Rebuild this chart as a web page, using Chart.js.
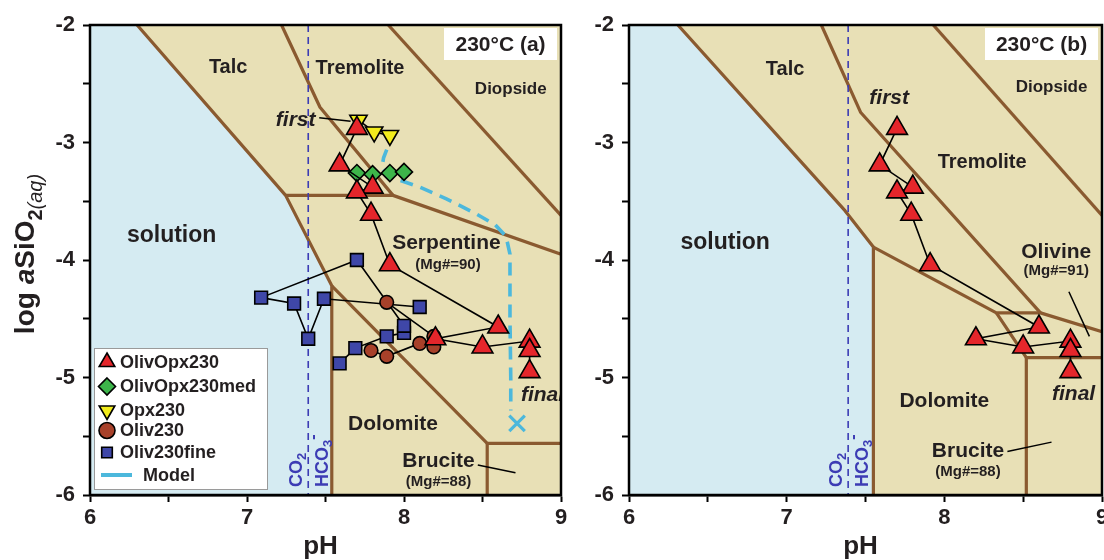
<!DOCTYPE html>
<html>
<head>
<meta charset="utf-8">
<title>log aSiO2 vs pH at 230 °C</title>
<script src="https://cdn.jsdelivr.net/npm/chart.js@4.4.1/dist/chart.umd.min.js"></script>
<style>
  html, body { margin: 0; padding: 0; background: #ffffff; }
  #wrap { position: relative; width: 1104px; height: 560px; overflow: hidden; }
  #panelA { position: absolute; left: 0; top: 0; }
  #panelB { position: absolute; left: 570px; top: 0; }
</style>
</head>
<body>
<div id="wrap">
  <canvas id="panelA" width="570" height="560"></canvas>
  <canvas id="panelB" width="534" height="560"></canvas>
</div>
<script>
// ---------- axes ----------
const phRange = [6, 9];
const logSiO2Range = [-6, -2];
const xTickValues = [6, 7, 8, 9];
const xTickLabels = ['6', '7', '8', '9'];
const yTickValues = [-2, -3, -4, -5, -6];
const yTickLabels = ['-2', '-3', '-4', '-5', '-6'];

// ---------- measured fluids, [pH, log aSiO2(aq)] in sampling order ----------
const olivOpx230 = [[7.70, -2.88], [7.59, -3.19], [7.80, -3.38], [7.70, -3.42], [7.79, -3.61], [7.91, -4.04],
                    [8.60, -4.57], [8.20, -4.67], [8.50, -4.74], [8.80, -4.69], [8.80, -4.77], [8.80, -4.95]];
const olivOpx230med = [[7.70, -3.26], [7.80, -3.27], [7.91, -3.26], [8.00, -3.25]];
const opx230 = [[7.71, -2.81], [7.81, -2.91], [7.91, -2.94]];
const oliv230 = [[7.89, -4.36], [8.19, -4.65], [8.19, -4.74], [8.10, -4.71], [7.89, -4.82], [7.79, -4.77]];
const oliv230fine = [[7.59, -4.88], [7.69, -4.75], [7.89, -4.65], [8.00, -4.62], [8.00, -4.56], [7.70, -4.00],
                     [7.09, -4.32], [7.30, -4.37], [7.39, -4.67], [7.49, -4.33], [8.10, -4.40]];
const seriesNames = ['OlivOpx230', 'OlivOpx230med', 'Opx230', 'Oliv230', 'Oliv230fine', 'Model'];

// ---------- reaction-path model ----------
const modelPath = [[7.89, -3.06], [7.87, -3.13], [7.86, -3.21], [7.90, -3.28], [7.97, -3.32], [8.10, -3.38],
                   [8.27, -3.48], [8.45, -3.60], [8.58, -3.70], [8.65, -3.80], [8.675, -3.95], [8.675, -4.50],
                   [8.68, -5.00], [8.68, -5.28]];
const modelEnd = [[8.72, -5.39]];

// ---------- CO2 / HCO3- equal-activity pH ----------
const carbonatePH = 7.39;

// ---------- stability-field boundaries, panel (a) ----------
const solutionFieldA = [[6.00, -2.00], [6.30, -2.00], [7.246, -3.45], [7.54, -4.22], [7.54, -6.00]];
const solutionEdgeA = [[6.30, -2.00], [7.246, -3.45], [7.54, -4.22], [7.54, -6.00]];
const talcTremoliteA = [[7.22, -2.00], [7.465, -2.70], [7.93, -3.45]];
const talcSerpentineA = [[7.246, -3.45], [7.93, -3.45], [9.00, -3.95]];
const tremoliteDiopsideA = [[7.90, -2.00], [9.00, -3.62]];
const serpentineDolomiteA = [[7.54, -4.22], [8.53, -5.56], [9.00, -5.56]];
const dolomiteBruciteA = [[8.53, -5.56], [8.53, -6.00]];
const leadersA = [[[7.46, -2.79], [7.66, -2.82]], [[8.47, -5.745], [8.71, -5.81]]];

// ---------- stability-field boundaries, panel (b) ----------
const solutionFieldB = [[6.00, -2.00], [6.31, -2.00], [7.37, -3.58], [7.55, -3.89], [7.55, -6.00]];
const solutionEdgeB = [[6.31, -2.00], [7.37, -3.58], [7.55, -3.89], [7.55, -6.00]];
const talcTremoliteB = [[7.22, -2.00], [7.47, -2.745], [8.61, -4.45]];
const tremoliteDiopsideB = [[7.93, -2.00], [9.00, -3.62]];
const talcDolomiteB = [[7.55, -3.89], [8.33, -4.45], [8.61, -4.45], [9.00, -4.61]];
const dolomiteOlivineB = [[8.33, -4.45], [8.52, -4.83], [9.00, -4.83]];
const dolomiteBruciteB = [[8.52, -4.83], [8.52, -6.00]];
const leadersB = [[[8.79, -4.27], [8.92, -4.65]], [[8.40, -5.63], [8.68, -5.55]]];

// ---------- styling ----------
const FONT = '"Liberation Sans", Arial, Helvetica, sans-serif';
const TEXT = '#231f20';
const TAN = '#e8e0b6';
const SOLUTION_BLUE = '#d5ebf2';
const BOUNDARY = '#8a5a30';
const CARB_BLUE = '#3c3cb4';
const MODEL_CYAN = '#4cb8dc';

const markerStyles = {
  OlivOpx230:    { shape: 'triangle', r: 12, rot: 0,   fill: '#e5262b', legendR: 9 },
  OlivOpx230med: { shape: 'rectRot',  r: 8.5, rot: 0,  fill: '#3db54a', legendR: 8.5 },
  Opx230:        { shape: 'triangle', r: 10, rot: 180, fill: '#f2ec1c', legendR: 9 },
  Oliv230:       { shape: 'circle',   r: 6.8, rot: 0,  fill: '#a8412a', legendR: 8 },
  Oliv230fine:   { shape: 'rect',     r: 9, rot: 0,    fill: '#3f47a8', legendR: 7.5 }
};

const font = (size, italic, weight) => `${italic ? 'italic ' : ''}${weight || 'bold'} ${size}px ${FONT}`;

// text placed on the stability fields, [pH, log aSiO2]
const fieldLabelsA = [
  { text: 'Talc', at: [6.88, -2.36], size: 20 },
  { text: 'Tremolite', at: [7.72, -2.37], size: 20 },
  { text: 'Diopside', at: [8.68, -2.55], size: 17 },
  { text: 'solution', at: [6.52, -3.79], size: 23 },
  { text: 'Serpentine', at: [8.27, -3.86], size: 21 },
  { text: '(Mg#=90)', at: [8.28, -4.04], size: 15 },
  { text: 'Dolomite', at: [7.93, -5.40], size: 21 },
  { text: 'Brucite', at: [8.22, -5.71], size: 21 },
  { text: '(Mg#=88)', at: [8.22, -5.89], size: 15 },
  { text: 'first', at: [7.31, -2.81], size: 21, italic: true },
  { text: 'final', at: [8.745, -5.15], size: 21, italic: true, align: 'left' }
];
const fieldLabelsB = [
  { text: 'Talc', at: [6.99, -2.38], size: 20 },
  { text: 'first', at: [7.65, -2.62], size: 21, italic: true },
  { text: 'Tremolite', at: [8.24, -3.17], size: 20 },
  { text: 'Diopside', at: [8.68, -2.53], size: 17 },
  { text: 'solution', at: [6.61, -3.85], size: 23 },
  { text: 'Olivine', at: [8.71, -3.93], size: 21 },
  { text: '(Mg#=91)', at: [8.71, -4.09], size: 15 },
  { text: 'Dolomite', at: [8.00, -5.20], size: 21 },
  { text: 'Brucite', at: [8.15, -5.63], size: 21 },
  { text: '(Mg#=88)', at: [8.15, -5.80], size: 15 },
  { text: 'final', at: [8.82, -5.14], size: 21, italic: true }
];

const pts = arr => arr.map(([x, y]) => ({ x, y }));

function drawMarker(ctx, style, x, y, r) {
  ctx.save();
  ctx.fillStyle = style.fill;
  ctx.strokeStyle = '#000';
  ctx.lineWidth = 1.6;
  ctx.beginPath();
  if (style.shape === 'triangle') {
    const s = style.rot ? -1 : 1;
    ctx.moveTo(x, y - s * r);
    ctx.lineTo(x + r * 0.866, y + s * r * 0.5);
    ctx.lineTo(x - r * 0.866, y + s * r * 0.5);
    ctx.closePath();
  } else if (style.shape === 'rectRot') {
    ctx.moveTo(x, y - r); ctx.lineTo(x + r, y); ctx.lineTo(x, y + r); ctx.lineTo(x - r, y); ctx.closePath();
  } else if (style.shape === 'circle') {
    ctx.arc(x, y, r, 0, Math.PI * 2);
  } else {
    const h = r * Math.SQRT1_2;
    ctx.rect(x - h, y - h, 2 * h, 2 * h);
  }
  ctx.fill();
  ctx.stroke();
  ctx.restore();
}

function drawVerticalRun(ctx, x, y, parts) {
  ctx.save();
  ctx.translate(x, y);
  ctx.rotate(-Math.PI / 2);
  ctx.textAlign = 'left';
  ctx.textBaseline = 'alphabetic';
  let cx = 0;
  parts.forEach(p => {
    ctx.font = p.f;
    ctx.fillText(p.t, cx, p.dy || 0);
    cx += ctx.measureText(p.t).width;
  });
  ctx.restore();
}

function runLength(ctx, parts) {
  let w = 0;
  parts.forEach(p => { ctx.font = p.f; w += ctx.measureText(p.t).width; });
  return w;
}

function decorPlugin(panel) {
  return {
    id: 'panelDecor',
    beforeDraw(chart) {
      const { ctx, chartArea: a } = chart;
      ctx.save();
      ctx.fillStyle = TAN;
      ctx.fillRect(a.left, a.top, a.right - a.left, a.bottom - a.top);
      ctx.restore();
    },
    afterDatasetsDraw(chart) {
      const { ctx, chartArea: a } = chart;
      const X = chart.scales.x, Y = chart.scales.y;
      ctx.save();
      ctx.beginPath();
      ctx.rect(a.left, a.top, a.right - a.left, a.bottom - a.top);
      ctx.clip();
      // field names
      ctx.fillStyle = TEXT;
      ctx.textBaseline = 'middle';
      panel.labels.forEach(lb => {
        ctx.font = font(lb.size, lb.italic);
        ctx.textAlign = lb.align || 'center';
        ctx.fillText(lb.text, X.getPixelForValue(lb.at[0]), Y.getPixelForValue(lb.at[1]));
      });
      // carbonate speciation labels either side of the dashed line
      const lx = X.getPixelForValue(carbonatePH);
      const yStart = Y.getPixelForValue(logSiO2Range[0]) - 8;
      ctx.fillStyle = CARB_BLUE;
      drawVerticalRun(ctx, lx - 6, yStart, [{ t: 'CO', f: font(18) }, { t: '2', f: font(13), dy: 4 }]);
      drawVerticalRun(ctx, lx + 20, yStart, [{ t: 'HCO', f: font(18) }, { t: '3', f: font(13), dy: 4 }, { t: '-', f: font(16), dy: -10 }]);
      // temperature / panel tag
      const bw = 113, bh = 32, bx = a.right - 4 - bw, by = a.top + 3;
      ctx.fillStyle = '#ffffff';
      ctx.fillRect(bx, by, bw, bh);
      ctx.fillStyle = TEXT;
      ctx.font = font(21);
      ctx.textAlign = 'center';
      ctx.textBaseline = 'middle';
      ctx.fillText(panel.tag, bx + bw / 2, by + bh / 2 + 1);
      ctx.restore();

      // plot frame
      ctx.save();
      ctx.strokeStyle = '#000';
      ctx.lineWidth = 2.5;
      ctx.strokeRect(a.left, a.top, a.right - a.left, a.bottom - a.top);
      ctx.restore();

      if (panel.legend) {
        const lx0 = a.left + 4, ly0 = a.bottom - 147, lw = 174, lh = 142;
        ctx.save();
        ctx.fillStyle = '#ffffff';
        ctx.fillRect(lx0, ly0, lw, lh);
        ctx.strokeStyle = '#9a9a9a';
        ctx.lineWidth = 1;
        ctx.strokeRect(lx0 + 0.5, ly0 + 0.5, lw - 1, lh - 1);
        const rows = [14, 38.5, 62.5, 82.5, 104.5, 127];
        ctx.font = font(18);
        ctx.textAlign = 'left';
        ctx.textBaseline = 'middle';
        seriesNames.forEach((name, i) => {
          const ry = ly0 + rows[i];
          if (markerStyles[name]) {
            drawMarker(ctx, markerStyles[name], lx0 + 13, ry, markerStyles[name].legendR);
            ctx.fillStyle = TEXT;
            ctx.fillText(name, lx0 + 26, ry + 1);
          } else {
            ctx.strokeStyle = MODEL_CYAN;
            ctx.lineWidth = 4;
            ctx.beginPath();
            ctx.moveTo(lx0 + 7, ry);
            ctx.lineTo(lx0 + 38, ry);
            ctx.stroke();
            ctx.fillStyle = TEXT;
            ctx.fillText(name, lx0 + 49, ry + 1);
          }
        });
        ctx.restore();
      }
    },
    afterDraw(chart) {
      const { ctx, chartArea: a } = chart;
      ctx.save();
      ctx.fillStyle = TEXT;
      ctx.font = font(26);
      ctx.textAlign = 'center';
      ctx.textBaseline = 'middle';
      ctx.fillText('pH', (a.left + a.right) / 2 - 5, a.bottom + 52);
      if (panel.yTitle) {
        const parts = [
          { t: 'log ', f: font(28) },
          { t: 'a', f: font(28, true) },
          { t: 'SiO', f: font(28) },
          { t: '2', f: font(20), dy: 8 },
          { t: '(aq)', f: font(20, true, 'normal'), dy: 8 }
        ];
        const len = runLength(ctx, parts);
        drawVerticalRun(ctx, 34, 254 + len / 2, parts);
      }
      ctx.restore();
    }
  };
}

function boundary(path) {
  return { type: 'line', data: pts(path), borderColor: BOUNDARY, borderWidth: 3.2, pointRadius: 0,
           fill: false, tension: 0, borderJoinStyle: 'round', order: 90 };
}
function leader(path) {
  return { type: 'line', data: pts(path), borderColor: '#000', borderWidth: 1.5, pointRadius: 0,
           fill: false, order: 60 };
}
function series(name, arr, order) {
  const st = markerStyles[name];
  return { type: 'line', label: name, data: pts(arr), borderColor: '#000', borderWidth: 1.6, tension: 0,
           fill: false, pointStyle: st.shape, pointRadius: st.r, pointRotation: st.rot,
           pointBackgroundColor: st.fill, pointBorderColor: '#000', pointBorderWidth: 1.6,
           pointHoverRadius: st.r, order };
}
function solutionFill(path) {
  return { type: 'line', data: pts(path), borderWidth: 0, borderColor: 'rgba(0,0,0,0)', pointRadius: 0,
           fill: 'start', backgroundColor: SOLUTION_BLUE, order: 100 };
}
function carbonateLine() {
  return { type: 'line', data: pts([[carbonatePH, logSiO2Range[1]], [carbonatePH, logSiO2Range[0]]]),
           borderColor: CARB_BLUE, borderWidth: 1.6, borderDash: [7, 5], pointRadius: 0, fill: false, order: 85 };
}

function makePanel(canvasId, panel) {
  const tickFont = { family: FONT, size: 22, weight: 'bold' };
  return new Chart(document.getElementById(canvasId), {
    type: 'line',
    data: { datasets: panel.datasets },
    options: {
      responsive: false,
      animation: false,
      devicePixelRatio: 1,
      layout: { padding: panel.padding, autoPadding: false },
      plugins: { legend: { display: false }, tooltip: { enabled: false } },
      events: [],
      scales: {
        x: {
          type: 'linear', min: phRange[0], max: phRange[1],
          afterFit(s) { s.height = 65; s.paddingLeft = 0; s.paddingRight = 0; },
          ticks: {
            stepSize: 0.5, autoSkip: false, maxRotation: 0, padding: 3, color: TEXT, font: tickFont,
            callback: v => { const i = xTickValues.indexOf(v); return i >= 0 ? xTickLabels[i] : ''; }
          },
          grid: { display: true, drawOnChartArea: false, drawTicks: true, tickLength: 7, tickWidth: 2, tickColor: '#000' },
          border: { display: true, color: '#000', width: 2.5 }
        },
        y: {
          type: 'linear', min: logSiO2Range[0], max: logSiO2Range[1],
          afterFit(s) { s.width = panel.yAxisWidth; s.paddingTop = 0; s.paddingBottom = 0; },
          ticks: {
            stepSize: 0.5, autoSkip: false, padding: 8, color: TEXT, font: tickFont,
            callback: v => { const i = yTickValues.indexOf(v); return i >= 0 ? yTickLabels[i] : ''; }
          },
          grid: { display: true, drawOnChartArea: false, drawTicks: true, tickLength: 7, tickWidth: 2, tickColor: '#000' },
          border: { display: true, color: '#000', width: 2.5 }
        }
      }
    },
    plugins: [decorPlugin(panel)]
  });
}

// ---------- panel (a): all experiments with the serpentine-stable diagram ----------
makePanel('panelA', {
  padding: { left: 0, right: 9, top: 25, bottom: 0 },
  yAxisWidth: 90,
  tag: '230°C (a)',
  legend: true,
  yTitle: true,
  labels: fieldLabelsA,
  datasets: [
    solutionFill(solutionFieldA),
    boundary(solutionEdgeA),
    boundary(talcTremoliteA),
    boundary(talcSerpentineA),
    boundary(tremoliteDiopsideA),
    boundary(serpentineDolomiteA),
    boundary(dolomiteBruciteA),
    carbonateLine(),
    { type: 'line', label: seriesNames[5], data: pts(modelPath), borderColor: MODEL_CYAN, borderWidth: 3.6,
      borderDash: [13, 8], pointRadius: 0, fill: false, tension: 0, order: 80 },
    { type: 'line', data: pts(modelEnd), showLine: false, pointStyle: 'crossRot', pointRadius: 11,
      pointBorderColor: MODEL_CYAN, pointBorderWidth: 3.2, order: 79 },
    ...leadersA.map(leader),
    series('Oliv230fine', oliv230fine, 50),
    series('Oliv230', oliv230, 40),
    series('Opx230', opx230, 30),
    series('OlivOpx230med', olivOpx230med, 20),
    series('OlivOpx230', olivOpx230, 10)
  ]
});

// ---------- panel (b): OlivOpx230 with serpentine suppressed ----------
makePanel('panelB', {
  padding: { left: 0, right: 2, top: 25, bottom: 0 },
  yAxisWidth: 59,
  tag: '230°C (b)',
  legend: false,
  yTitle: false,
  labels: fieldLabelsB,
  datasets: [
    solutionFill(solutionFieldB),
    boundary(solutionEdgeB),
    boundary(talcTremoliteB),
    boundary(tremoliteDiopsideB),
    boundary(talcDolomiteB),
    boundary(dolomiteOlivineB),
    boundary(dolomiteBruciteB),
    carbonateLine(),
    ...leadersB.map(leader),
    series('OlivOpx230', olivOpx230, 10)
  ]
});
</script>
</body>
</html>
